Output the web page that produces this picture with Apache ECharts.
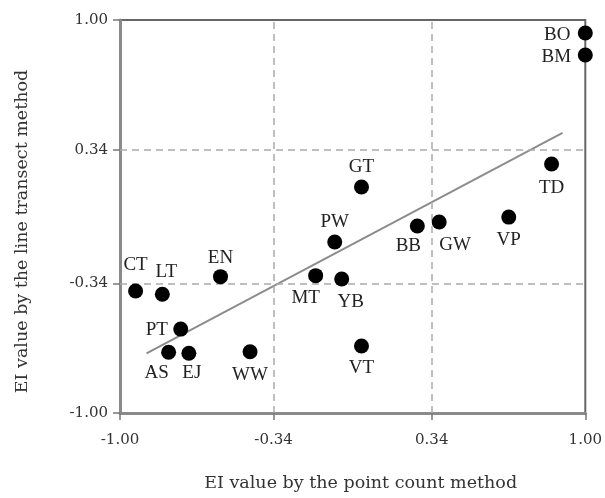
<!DOCTYPE html>
<html><head><meta charset="utf-8">
<script src="https://cdn.jsdelivr.net/npm/echarts@6/dist/echarts.min.js"></script>
<style>html,body{margin:0;padding:0;background:#fff}#c{width:605px;height:498px}</style>
</head><body><div id="c"></div>
<script>
var names = ['BO','BM','TD','GT','PW','BB','GW','VP','CT','LT','EN','MT','YB','PT','AS','EJ','WW','VT'];
var xVals = [1.00, 1.00, 0.855, 0.038, -0.077, 0.278, 0.372, 0.671, -0.933, -0.818, -0.568, -0.159, -0.047, -0.739, -0.791, -0.704, -0.441, 0.038];
var yVals = [0.934, 0.822, 0.267, 0.150, -0.130, -0.048, -0.028, -0.003, -0.379, -0.396, -0.306, -0.301, -0.318, -0.573, -0.691, -0.696, -0.688, -0.659];
var tickValues = [-1, -0.34, 0.34, 1];
var gridValues = [-0.34, 0.34];
var fitX = [-0.886, 0.902];
var fitY = [-0.696, 0.426];

// label placement (layout only): offset of label centre from marker centre, px
var labelOffsets = {
  BO:[-28,2], BM:[-29,2], TD:[0,24], GT:[0,-20], PW:[0,-20], BB:[-9,20], GW:[16,23], VP:[0,23],
  CT:[0,-26], LT:[4,-22], EN:[0,-19], MT:[-10,22], YB:[9,23], PT:[-24,1], AS:[-12,21], EJ:[3,20],
  WW:[0,23], VT:[0,22]
};

var font = '"Liberation Serif", "Times New Roman", serif';
var font2 = '"DejaVu Serif", serif';
var pts = names.map(function(n,i){
  return {name:n, value:[xVals[i], yVals[i]], label:{position:'inside', offset:labelOffsets[n]}};
});
var fitData = fitX.map(function(x,i){return [x, fitY[i]];});

function axis(extra){
  var a = {
    type:'value', min:-1, max:1,
    axisLine:{show:true, onZero:false, lineStyle:{color:'#8a8a8a', width:3}},
    axisTick:{show:true, customValues:tickValues, length:7, lineStyle:{color:'#777', width:1.5}},
    axisLabel:{customValues:tickValues, formatter:function(v){return v.toFixed(2);}, color:'#333', fontFamily:font2, fontSize:15},
    splitLine:{show:false},
    nameLocation:'middle',
    nameTextStyle:{color:'#333', fontFamily:font2, fontSize:17.5}
  };
  for (var k in extra) a[k] = extra[k];
  return a;
}
var chart = echarts.init(document.getElementById('c'));
var xa = axis({name:'EI value by the point count method', nameGap:61});
xa.axisLabel.margin = 20;
xa.nameTextStyle.padding = [0,0,0,16];
var ya = axis({name:'EI value by the line transect method', nameGap:89});
ya.axisLabel.margin = 12;
ya.nameTextStyle.padding = [0,30,0,0];
chart.setOption({
  animation:false,
  grid:{left:120, right:17, top:20, bottom:85, show:true, borderColor:'#666', borderWidth:2, containLabel:false},
  xAxis: xa,
  yAxis: ya,
  series:[
    {type:'line', data:fitData, symbol:'none', lineStyle:{color:'#8c8c8c', width:2}, z:2,
     markLine:{silent:true, symbol:'none', label:{show:false}, lineStyle:{color:'#aaa', type:[7,5], width:1.5},
       data: gridValues.map(function(v){return {xAxis:v};}).concat(gridValues.map(function(v){return {yAxis:v};}))}},
    {type:'scatter', data:pts, symbolSize:15, itemStyle:{color:'#000', opacity:1}, z:5,
     label:{show:true, formatter:'{b}', color:'#222', fontFamily:font, fontSize:19}}
  ]
});
</script></body></html>
